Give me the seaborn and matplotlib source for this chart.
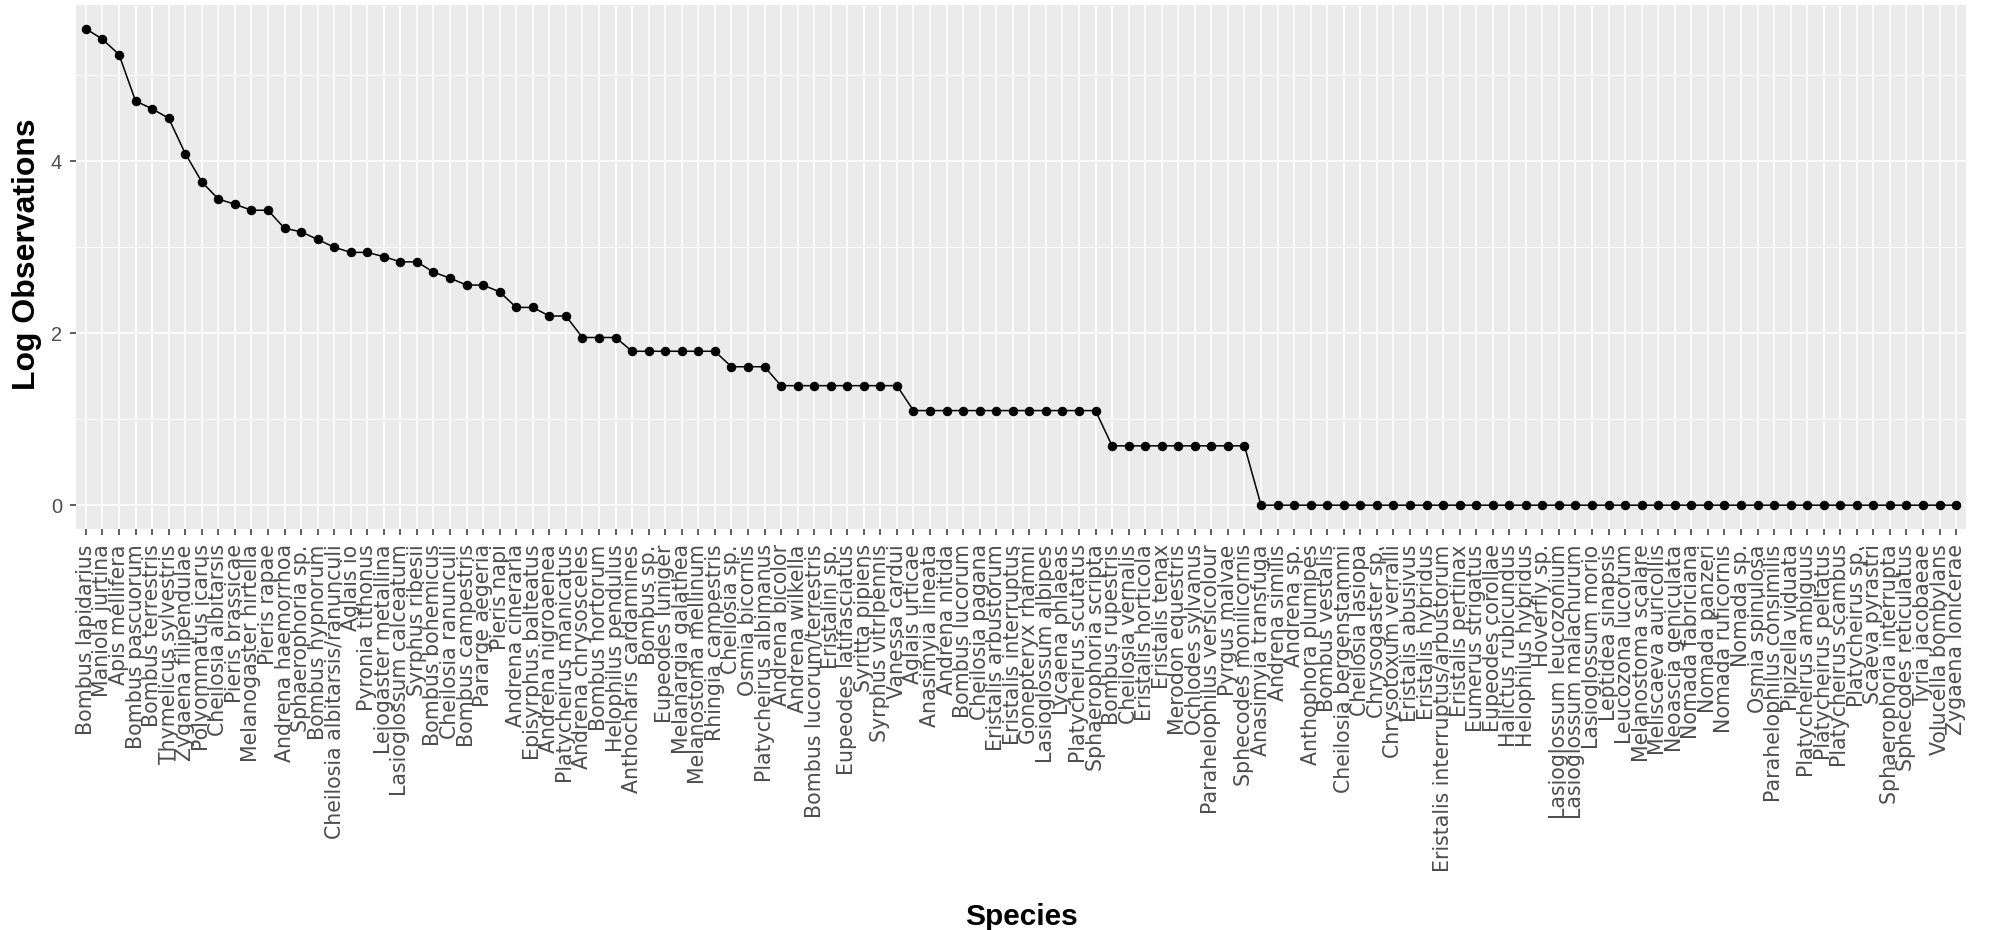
import matplotlib

matplotlib.use("Agg")
import matplotlib.pyplot as plt
import pandas as pd
import seaborn as sns

# species in plotted order (sorted by observations, then alphabetically)
species = [
    "Bombus lapidarius", "Maniola jurtina", "Apis mellifera", "Bombus pascuorum",
    "Bombus terrestris", "Thymelicus sylvestris", "Zygaena filipendulae", "Polyommatus icarus",
    "Cheilosia albitarsis", "Pieris brassicae", "Melanogaster hirtella", "Pieris rapae",
    "Andrena haemorrhoa", "Sphaerophoria sp.", "Bombus hypnorum", "Cheilosia albitarsis/ranunculi",
    "Aglais io", "Pyronia tithonus", "Leiogaster metallina", "Lasioglossum calceatum",
    "Syrphus ribesii", "Bombus bohemicus", "Cheilosia ranunculi", "Bombus campestris",
    "Pararge aegeria", "Pieris napi", "Andrena cineraria", "Episyrphus balteatus",
    "Andrena nigroaenea", "Platycheirus manicatus", "Andrena chrysosceles", "Bombus hortorum",
    "Helophilus pendulus", "Anthocharis cardamines", "Bombus sp.", "Eupeodes luniger",
    "Melanargia galathea", "Melanostoma mellinum", "Rhingia campestris", "Cheilosia sp.",
    "Osmia bicornis", "Platycheirus albimanus", "Andrena bicolor", "Andrena wilkella",
    "Bombus lucorum/terrestris", "Eristalini sp.", "Eupeodes latifasciatus", "Syritta pipiens",
    "Syrphus vitripennis", "Vanessa cardui", "Aglais urticae", "Anasimyia lineata",
    "Andrena nitida", "Bombus lucorum", "Cheilosia pagana", "Eristalis arbustorum",
    "Eristalis interruptus", "Gonepteryx rhamni", "Lasioglossum albipes", "Lycaena phlaeas",
    "Platycheirus scutatus", "Sphaerophoria scripta", "Bombus rupestris", "Cheilosia vernalis",
    "Eristalis horticola", "Eristalis tenax", "Merodon equestris", "Ochlodes sylvanus",
    "Parahelophilus versicolour", "Pyrgus malvae", "Sphecodes monilicornis", "Anasimyia transfuga",
    "Andrena similis", "Andrena sp.", "Anthophora plumipes", "Bombus vestalis",
    "Cheilosia bergenstammi", "Cheilosia lasiopa", "Chrysogaster sp.", "Chrysotoxum verralli",
    "Eristalis abusivus", "Eristalis hybridus", "Eristalis interruptus/arbustorum", "Eristalis pertinax",
    "Eumerus strigatus", "Eupeodes corollae", "Halictus rubicundus", "Helophilus hybridus",
    "Hoverfly sp.", "Lasioglossum leucozonium", "Lasioglossum malachurum", "Lasioglossum morio",
    "Leptidea sinapsis", "Leucozona lucorum", "Melanostoma scalare", "Meliscaeva auricollis",
    "Neoascia geniculata", "Nomada fabriciana", "Nomada panzeri", "Nomada ruficornis",
    "Nomada sp.", "Osmia spinulosa", "Parahelophilus consimilis", "Pipizella viduata",
    "Platycheirus ambiguus", "Platycheirus peltatus", "Platycheirus scambus", "Platycheirus sp.",
    "Scaeva pyrastri", "Sphaerophoria interrupta", "Sphecodes reticulatus", "Tyria jacobaeae",
    "Volucella bombylans", "Zygaena lonicerae",
]

log_obs = [
    5.54, 5.42, 5.24, 4.70, 4.61, 4.50, 4.09, 3.76,
    3.56, 3.50, 3.43, 3.43, 3.22, 3.18, 3.09, 3.00,
    2.94, 2.94, 2.89, 2.83, 2.83, 2.71, 2.64, 2.56,
    2.56, 2.48, 2.30, 2.30, 2.20, 2.20, 1.95, 1.95,
    1.95, 1.79, 1.79, 1.79, 1.79, 1.79, 1.79, 1.61,
    1.61, 1.61, 1.39, 1.39, 1.39, 1.39, 1.39, 1.39,
    1.39, 1.39, 1.10, 1.10, 1.10, 1.10, 1.10, 1.10,
    1.10, 1.10, 1.10, 1.10, 1.10, 1.10, 0.69, 0.69,
    0.69, 0.69, 0.69, 0.69, 0.69, 0.69, 0.69, 0.00,
    0.00, 0.00, 0.00, 0.00, 0.00, 0.00, 0.00, 0.00,
    0.00, 0.00, 0.00, 0.00, 0.00, 0.00, 0.00, 0.00,
    0.00, 0.00, 0.00, 0.00, 0.00, 0.00, 0.00, 0.00,
    0.00, 0.00, 0.00, 0.00, 0.00, 0.00, 0.00, 0.00,
    0.00, 0.00, 0.00, 0.00, 0.00, 0.00, 0.00, 0.00,
    0.00, 0.00,
]

y_ticks = [0, 2, 4]
y_minor = [1, 3, 5]

df = pd.DataFrame({"species": species, "log_obs": log_obs})

sns.set_theme(style="darkgrid")
plt.rcParams["font.family"] = ["Liberation Sans", "DejaVu Sans"]

fig = plt.figure(figsize=(19.95, 9.30), dpi=100)
ax = fig.add_axes([0.0381, 0.4312, 0.9474, 0.5634])
ax.set_facecolor("#EBEBEB")

sns.pointplot(
    data=df, x="species", y="log_obs", order=species, color="black",
    errorbar=None, markersize=6, linewidth=1.1, ax=ax,
)

n = len(species)
ax.set_xlim(-0.6, n - 1 + 0.6)
ax.set_ylim(-0.277, 5.817)
ax.set_yticks(y_ticks)
ax.set_yticks(y_minor, minor=True)

ax.grid(which="major", color="white", linewidth=1.2)
ax.grid(which="minor", axis="y", color="white", linewidth=0.6)
ax.set_axisbelow(True)
for spine in ax.spines.values():
    spine.set_visible(False)

ax.tick_params(axis="x", which="major", rotation=90, labelsize=14.8, labelcolor="#4D4D4D",
               length=4, width=1.1, color="#333333", pad=7, bottom=True)
ax.tick_params(axis="y", which="major", labelsize=14.5, labelcolor="#4D4D4D",
               length=4, width=1.1, color="#333333", pad=6, left=True)
ax.tick_params(axis="y", which="minor", length=0, left=False)
# wider glyphs give the long, narrow look of the original labels
for label in ax.get_xticklabels():
    label.set_ha("center")
    label.set_va("top")
    label.set_family(["DejaVu Sans"])

ax.set_xlabel("Species", fontsize=21.5, fontweight="bold", color="black", va="center")
ax.xaxis.set_label_coords(0.5, -0.74)
ax.set_ylabel("Log Observations", fontsize=23, fontweight="bold", color="black", va="center")
ax.yaxis.set_label_coords(-0.026, 0.525)

fig.savefig("out.png", dpi=100, facecolor="white")
plt.close(fig)
